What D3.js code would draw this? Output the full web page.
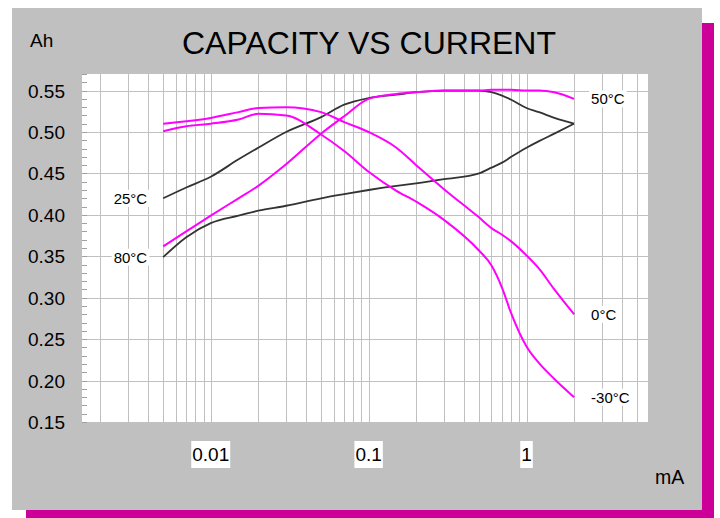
<!DOCTYPE html>
<html>
<head>
<meta charset="utf-8">
<script src="https://cdn.jsdelivr.net/npm/d3@7"></script>
<style>
  html, body { margin: 0; padding: 0; background: #ffffff; }
  svg { display: block; font-family: "Liberation Sans", Arial, sans-serif; }
</style>
</head>
<body>
<svg id="chart" width="720" height="518"></svg>
<script>
// ---- data ----
const currents = [0.005, 0.007, 0.01, 0.015, 0.02, 0.03, 0.05, 0.07, 0.1, 0.15, 0.2, 0.3, 0.5, 0.6, 0.7, 0.8, 1, 1.2, 1.5, 2];
const cap50  = [0.362, 0.380, 0.399, 0.420, 0.435, 0.461, 0.498, 0.519, 0.540, 0.546, 0.548, 0.550, 0.550, 0.551, 0.551, 0.551, 0.550, 0.550, 0.548, 0.540];
const cap25  = [0.420, 0.433, 0.446, 0.467, 0.481, 0.500, 0.518, 0.533, 0.541, 0.545, 0.548, 0.550, 0.550, 0.548, 0.544, 0.539, 0.529, 0.524, 0.517, 0.510];
const cap80  = [0.349, 0.373, 0.390, 0.399, 0.405, 0.411, 0.420, 0.425, 0.430, 0.435, 0.438, 0.443, 0.450, 0.457, 0.463, 0.470, 0.481, 0.489, 0.498, 0.510];
const cap0   = [0.510, 0.513, 0.517, 0.524, 0.529, 0.530, 0.524, 0.512, 0.500, 0.481, 0.460, 0.431, 0.397, 0.384, 0.376, 0.368, 0.351, 0.335, 0.310, 0.280];
const capM30 = [0.501, 0.507, 0.510, 0.515, 0.522, 0.520, 0.497, 0.477, 0.452, 0.429, 0.416, 0.394, 0.357, 0.339, 0.312, 0.281, 0.241, 0.221, 0.202, 0.180];

const yTickValues = [0.15, 0.20, 0.25, 0.30, 0.35, 0.40, 0.45, 0.50, 0.55];
const xTickValues = [0.01, 0.1, 1];
const xTickLabels = ["0.01", "0.1", "1"];

const series = [
  { name: "80°C",  values: cap80,  color: "#333333", labelSide: "left"  },
  { name: "25°C",  values: cap25,  color: "#333333", labelSide: "left"  },
  { name: "0°C",   values: cap0,   color: "#ff00ff", labelSide: "right" },
  { name: "-30°C", values: capM30, color: "#ff00ff", labelSide: "right" },
  { name: "50°C",  values: cap50,  color: "#ff00ff", labelSide: "right" }
];

// ---- layout ----
const svg = d3.select("#chart");
const plot = { left: 82, right: 648, top: 74, bottom: 422 };

// shadow + panel
svg.append("rect").attr("x", 26).attr("y", 23).attr("width", 688).attr("height", 495).attr("fill", "#cc0099");
svg.append("rect").attr("x", 12).attr("y", 8).attr("width", 690).attr("height", 502).attr("fill", "#c0c0c0");

// scales
const x = d3.scaleLog().domain([0.00153, 5.88]).range([plot.left, plot.right]);
const y = d3.scaleLinear().domain([0.15, 0.57]).range([plot.bottom, plot.top]);

// plot background
svg.append("rect")
  .attr("x", plot.left).attr("y", plot.top)
  .attr("width", plot.right - plot.left).attr("height", plot.bottom - plot.top)
  .attr("fill", "#ffffff");

// vertical gridlines (log subdivisions)
const gridG = svg.append("g").attr("stroke", "#c0c0c0").attr("stroke-width", 1).attr("shape-rendering", "crispEdges");
x.ticks().filter(v => x(v) > plot.left + 2 && x(v) < plot.right - 2).forEach(v => {
  gridG.append("line")
    .attr("x1", Math.round(x(v)) + 0.5).attr("x2", Math.round(x(v)) + 0.5)
    .attr("y1", plot.top).attr("y2", plot.bottom);
});
// horizontal gridlines
yTickValues.forEach(v => {
  gridG.append("line")
    .attr("x1", plot.left).attr("x2", plot.right)
    .attr("y1", Math.round(y(v)) + 0.5).attr("y2", Math.round(y(v)) + 0.5);
});

// minor y ticks on left edge
const minor = d3.range(15, 58).map(d => d / 100);
const minorG = svg.append("g").attr("stroke", "#a0a0a0").attr("stroke-width", 1).attr("shape-rendering", "crispEdges");
minor.forEach(v => {
  minorG.append("line")
    .attr("x1", plot.left).attr("x2", plot.left + 5)
    .attr("y1", Math.round(y(v)) + 0.5).attr("y2", Math.round(y(v)) + 0.5);
});

// y axis labels
svg.append("g").selectAll("text").data(yTickValues).join("text")
  .attr("x", 65).attr("y", d => y(d) + 7)
  .attr("text-anchor", "end")
  .attr("font-size", 19)
  .attr("fill", "#000")
  .text(d => d.toFixed(2));

// x axis labels with white boxes
xTickValues.forEach((v, i) => {
  const g = svg.append("g");
  const t = g.append("text")
    .attr("x", x(v)).attr("y", 461)
    .attr("text-anchor", "middle")
    .attr("font-size", 19)
    .attr("fill", "#000")
    .text(xTickLabels[i]);
  const bb = t.node().getBBox();
  g.insert("rect", "text")
    .attr("x", bb.x - 1).attr("y", 441)
    .attr("width", bb.width + 2).attr("height", 27)
    .attr("fill", "#ffffff");
});

// axis unit labels + title
svg.append("text").attr("x", 30).attr("y", 47).attr("font-size", 19).text("Ah");
svg.append("text").attr("x", 655).attr("y", 484).attr("font-size", 19.5).text("mA");
svg.append("text").attr("x", 369).attr("y", 54).attr("text-anchor", "middle")
  .attr("font-size", 32).text("CAPACITY VS CURRENT");

// lines
const line = d3.line()
  .x(d => x(d[0]))
  .y(d => y(d[1]))
  .curve(d3.curveMonotoneX);

series.forEach(s => {
  const pts = currents.map((c, i) => [c, s.values[i]]);
  svg.append("path")
    .attr("d", line(pts))
    .attr("fill", "none")
    .attr("stroke", s.color)
    .attr("stroke-width", s.color === "#ff00ff" ? 2 : 1.8)
    .attr("stroke-linejoin", "round");
});

// series labels with white boxes
series.forEach(s => {
  const g = svg.append("g");
  let tx, anchor, ty;
  if (s.labelSide === "left") {
    tx = x(currents[0]) - 16; anchor = "end"; ty = y(s.values[0]);
  } else {
    tx = x(currents[currents.length - 1]) + 17; anchor = "start"; ty = y(s.values[s.values.length - 1]);
  }
  const t = g.append("text")
    .attr("x", tx).attr("y", ty + 5.5)
    .attr("text-anchor", anchor)
    .attr("font-size", 15)
    .attr("fill", "#000")
    .text(s.name);
  const bb = t.node().getBBox();
  g.insert("rect", "text")
    .attr("x", bb.x - 2).attr("y", bb.y)
    .attr("width", bb.width + 4).attr("height", bb.height)
    .attr("fill", "#ffffff");
});
</script>
</body>
</html>
